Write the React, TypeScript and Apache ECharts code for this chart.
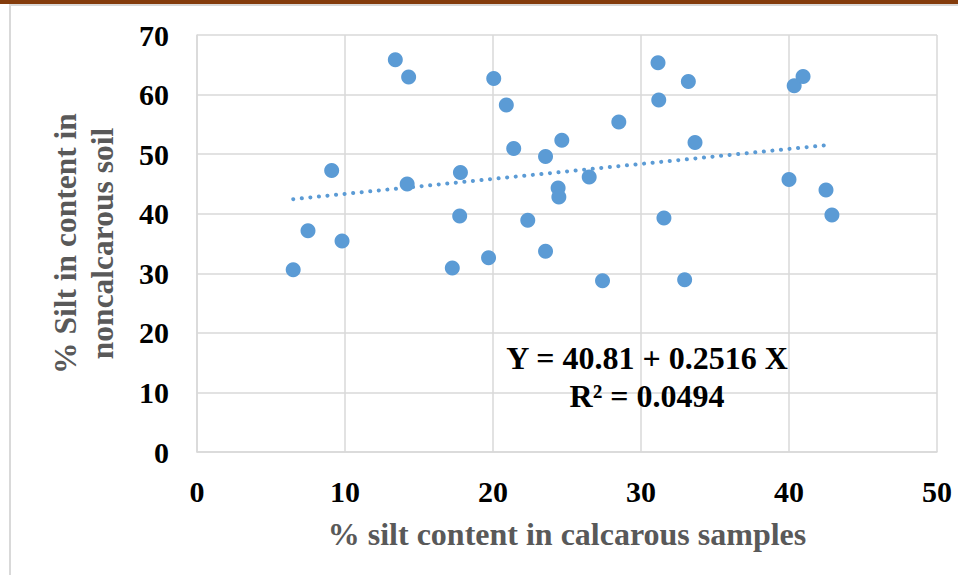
import React, { useEffect, useRef } from "react";
import * as echarts from "echarts";

const xValues = [6.5, 7.5, 9.8, 9.1, 13.4, 14.3, 14.2, 17.25, 17.8, 17.75, 19.7, 20.05, 20.9, 21.4, 22.35, 23.55, 23.55, 24.4, 24.45, 24.65, 26.5, 27.4, 28.5, 31.15, 31.2, 31.55, 32.95, 33.2, 33.65, 40.0, 40.35, 40.95, 42.5, 42.9];
const yValues = [30.6, 37.15, 35.4, 47.25, 65.85, 62.95, 45.0, 30.9, 46.9, 39.6, 32.6, 62.7, 58.25, 50.95, 38.9, 49.6, 33.7, 44.3, 42.8, 52.35, 46.15, 28.75, 55.4, 65.35, 59.1, 39.3, 28.9, 62.2, 51.95, 45.75, 61.5, 63.05, 44.0, 39.8];
const intercept = 40.81;
const slope = 0.2516;
const rSquared = "0.0494";
const xTitle = "% silt content in calcarous samples";
const yTitleLines = ["% Silt in content in", "noncalcarous soil"];

const FONT = '"Liberation Serif", "Times New Roman", serif';

export default function App() {
  const ref = useRef<HTMLDivElement>(null);
  useEffect(() => {
    if (!ref.current) return;
    const chart = echarts.init(ref.current, undefined, { renderer: "svg" });
    const points = xValues.map((x, i) => [x, yValues[i]]);
    const xMin = Math.min(...xValues);
    const xMax = Math.max(...xValues);
    const trend = [
      [xMin, intercept + slope * xMin],
      [xMax, intercept + slope * xMax],
    ];
    chart.setOption({
      animation: false,
      backgroundColor: "#ffffff",
      grid: { left: 197, top: 35, width: 740, height: 417, containLabel: false },
      xAxis: {
        type: "value",
        min: 0,
        max: 50,
        interval: 10,
        name: xTitle,
        nameLocation: "middle",
        nameGap: 66,
        nameTextStyle: { fontFamily: FONT, fontWeight: "bold", fontSize: 32, color: "#595959" },
        axisLine: { show: true, lineStyle: { color: "#d9d9d9", width: 1.5 } },
        axisTick: { show: false },
        axisLabel: { fontFamily: FONT, fontWeight: "bold", fontSize: 30, color: "#000", margin: 24 },
        splitLine: { show: true, lineStyle: { color: "#d9d9d9", width: 1.5 } },
      },
      yAxis: {
        type: "value",
        min: 0,
        max: 70,
        interval: 10,
        name: yTitleLines.join("\n"),
        nameLocation: "middle",
        nameRotate: 90,
        nameGap: 76,
        nameTextStyle: { fontFamily: FONT, fontWeight: "bold", fontSize: 31.5, color: "#595959", lineHeight: 37 },
        axisLine: { show: true, lineStyle: { color: "#d9d9d9", width: 1.5 } },
        axisTick: { show: false },
        axisLabel: { fontFamily: FONT, fontWeight: "bold", fontSize: 30, color: "#000", margin: 28 },
        splitLine: { show: true, lineStyle: { color: "#d9d9d9", width: 1.5 } },
      },
      series: [
        {
          type: "scatter",
          data: points,
          symbol: "circle",
          symbolSize: 15,
          itemStyle: { color: "#5B9BD5", opacity: 1 },
          z: 3,
        },
        {
          type: "line",
          data: trend,
          showSymbol: false,
          symbol: "none",
          lineStyle: { color: "#5B9BD5", width: 4, type: [0.1, 8.5], cap: "round", opacity: 1 },
          z: 2,
        },
      ],
      graphic: [
        { type: "rect", shape: { x: 0, y: 0, width: 958, height: 4 }, style: { fill: "#843C0C" }, silent: true },
        { type: "rect", shape: { x: 10, y: 5, width: 980, height: 600 }, style: { fill: "none", stroke: "#d9d9d9", lineWidth: 2 }, silent: true },
        {
          type: "text",
          x: 647,
          y: 358,
          style: {
            text: `Y = ${intercept} + ${slope} X`,
            fontFamily: FONT,
            fontWeight: "bold",
            fontSize: 32,
            fill: "#000",
            align: "center",
            verticalAlign: "middle",
          },
          z: 10,
        },
        {
          type: "text",
          x: 647,
          y: 396,
          style: {
            text: `R² = ${rSquared}`,
            fontFamily: FONT,
            fontWeight: "bold",
            fontSize: 32,
            fill: "#000",
            align: "center",
            verticalAlign: "middle",
          },
          z: 10,
        },
      ],
    });
    return () => chart.dispose();
  }, []);
  return (
    <div
      ref={ref}
      style={{ position: "fixed", left: 0, top: 0, width: 958, height: 575, background: "#fff" }}
    />
  );
}
